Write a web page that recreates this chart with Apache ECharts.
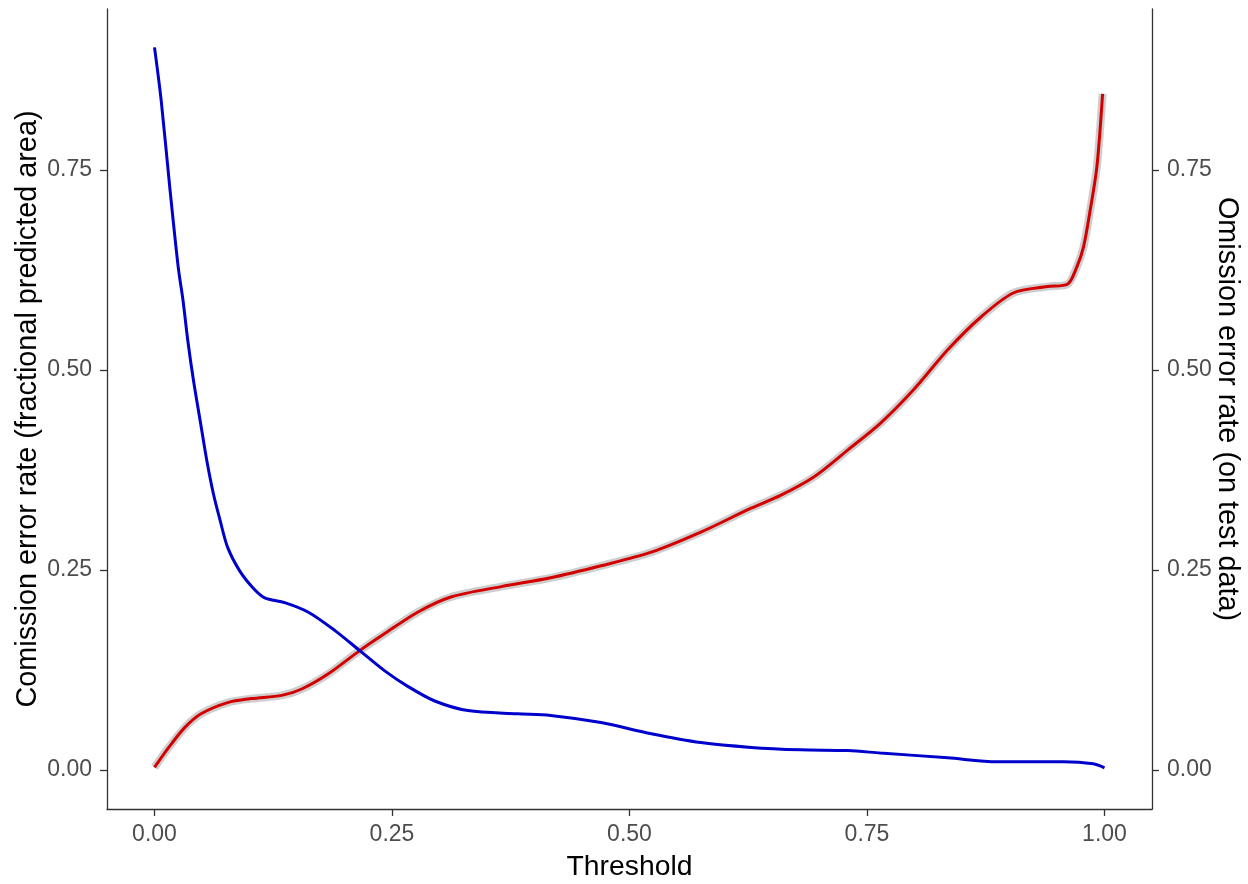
<!DOCTYPE html>
<html>
<head>
<meta charset="utf-8">
<script src="https://cdn.jsdelivr.net/npm/echarts@6/dist/echarts.min.js"></script>
<style>
html,body{margin:0;padding:0;background:#fff;overflow:hidden;}
#chart{width:1248px;height:884px;}
</style>
</head>
<body>
<div id="chart"></div>
<script>
// Commission error rate (left axis), blue
const commissionX = [0.000,0.007,0.016,0.025,0.030,0.035,0.041,0.048,0.055,0.062,0.069,0.077,0.090,0.104,0.116,0.137,0.162,0.190,0.216,0.242,0.267,0.295,0.330,0.382,0.417,0.470,0.523,0.575,0.628,0.680,0.730,0.764,0.835,0.887,0.957,0.988,1.000];
const commissionY = [0.903,0.837,0.729,0.628,0.587,0.537,0.487,0.437,0.387,0.345,0.312,0.278,0.248,0.227,0.215,0.209,0.197,0.174,0.149,0.124,0.104,0.086,0.074,0.070,0.068,0.059,0.045,0.034,0.028,0.025,0.024,0.021,0.015,0.010,0.010,0.0075,0.0025];
// Omission error rate (right axis), red
const omissionX = [0.000,0.015,0.032,0.049,0.077,0.102,0.134,0.155,0.183,0.216,0.242,0.277,0.312,0.365,0.417,0.470,0.523,0.575,0.628,0.659,0.694,0.730,0.764,0.799,0.835,0.870,0.904,0.940,0.961,0.971,0.978,0.985,0.992,0.998];
const omissionY = [0.003,0.028,0.053,0.070,0.084,0.089,0.093,0.101,0.120,0.149,0.170,0.197,0.216,0.229,0.240,0.255,0.272,0.297,0.327,0.343,0.366,0.400,0.433,0.475,0.525,0.566,0.596,0.604,0.607,0.629,0.654,0.700,0.754,0.845];
const xTicks = [0, 0.25, 0.5, 0.75, 1];
const yTicks = [0, 0.25, 0.5, 0.75];

const xTitle = 'Threshold';
const yLeftTitle = 'Comission error rate (fractional predicted area)';
const yRightTitle = 'Omission error rate (on test data)';

const zip = (xs, ys) => xs.map((x, i) => [x, ys[i]]);
const font = 'Liberation Sans, Arial, sans-serif';
const fmt = v => v.toFixed(2);

const axisCommon = {
  type: 'value',
  splitLine: { show: false },
  axisLine: { show: true, onZero: false, lineStyle: { color: '#333', width: 1.3 } },
  axisTick: { show: true, length: 7, lineStyle: { color: '#333', width: 1.3 } },
  axisLabel: { color: '#4D4D4D', fontSize: 23, fontFamily: font, formatter: fmt },
  nameTextStyle: { color: '#000', fontSize: 28.8, fontFamily: font },
  nameLocation: 'middle',
  nameMoveOverlap: false
};

const chart = echarts.init(document.getElementById('chart'));
chart.setOption({
  animation: false,
  backgroundColor: '#fff',
  grid: { left: 107, right: 96, top: 9, bottom: 75, containLabel: false, outerBoundsMode: 'none' },
  xAxis: Object.assign({}, axisCommon, {
    min: -0.05, max: 1.05,
    name: xTitle, nameGap: 44,
    nameTextStyle: Object.assign({}, axisCommon.nameTextStyle, { fontSize: 28.3 }),
    axisTick: Object.assign({}, axisCommon.axisTick, { customValues: xTicks }),
    axisLabel: Object.assign({}, axisCommon.axisLabel, { customValues: xTicks, margin: 14 })
  }),
  yAxis: [
    Object.assign({}, axisCommon, {
      min: -0.049, max: 0.951, position: 'left',
      name: yLeftTitle, nameGap: 64,
      axisTick: Object.assign({}, axisCommon.axisTick, { customValues: yTicks }),
      axisLabel: Object.assign({}, axisCommon.axisLabel, { customValues: yTicks, margin: 15 })
    }),
    Object.assign({}, axisCommon, {
      min: -0.049, max: 0.951, position: 'right',
      name: yRightTitle, nameGap: 60, nameRotate: -90,
      axisTick: Object.assign({}, axisCommon.axisTick, { customValues: yTicks }),
      axisLabel: Object.assign({}, axisCommon.axisLabel, { customValues: yTicks, margin: 15 })
    })
  ],
  series: [
    {
      type: 'line', yAxisIndex: 1, data: zip(omissionX, omissionY),
      showSymbol: false, smooth: 0.3, silent: true,
      lineStyle: { color: 'rgba(185,185,185,0.7)', width: 8 }, z: 1
    },
    {
      type: 'line', yAxisIndex: 1, data: zip(omissionX, omissionY),
      showSymbol: false, smooth: 0.3,
      lineStyle: { color: '#D40000', width: 3 }, z: 2
    },
    {
      type: 'line', yAxisIndex: 0, data: zip(commissionX, commissionY),
      showSymbol: false, smooth: 0.3,
      lineStyle: { color: '#0000CD', width: 3 }, z: 3
    }
  ]
});
</script>
</body>
</html>
